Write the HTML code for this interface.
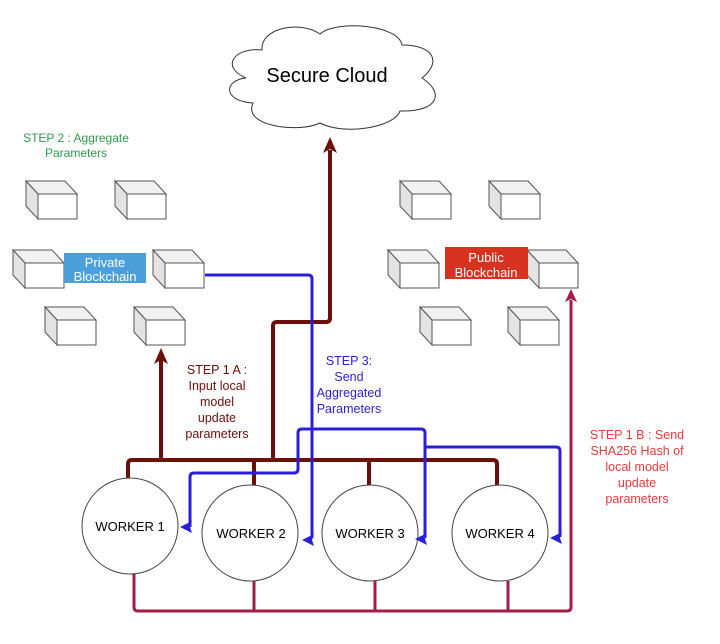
<!DOCTYPE html>
<html><head><meta charset="utf-8"><style>html,body{margin:0;padding:0;background:#fff}svg{display:block}text{font-family:"Liberation Sans",Arial,sans-serif}</style></head>
<body>
<svg width="720" height="644" viewBox="0 0 720 644" xmlns="http://www.w3.org/2000/svg">
<defs>
<g id="cube">
<polygon points="0,0 39,0 51,13 12,13" fill="#f1f1f1" stroke="#555" stroke-width="1"/>
<polygon points="0,0 12,13 12,38 0,25" fill="#e3e3e3" stroke="#555" stroke-width="1"/>
<rect x="12" y="13" width="39" height="25" fill="#fff" stroke="#555" stroke-width="1"/>
</g>
</defs>
<!-- cloud -->
<path d="M262,50 C260,28 300,20 320,34 C335,20 398,24 402,45 C434,45 442,62 422,78 C444,92 440,112 400,111 C395,127 345,136 320,123 C300,133 242,127 253,103 C222,101 224,80 246,78 C220,67 234,47 262,50 Z" fill="#fff" stroke="#333" stroke-width="1"/>
<text x="327" y="82" font-size="20" text-anchor="middle" fill="#000">Secure Cloud</text>
<text x="76" y="142" font-size="12" text-anchor="middle" fill="#2e9a4a">STEP 2 : Aggregate</text>
<text x="76" y="157" font-size="12" text-anchor="middle" fill="#2e9a4a">Parameters</text>
<!-- cubes -->
<use href="#cube" x="26" y="181"/><use href="#cube" x="115" y="181"/>
<use href="#cube" x="13" y="250"/><use href="#cube" x="153" y="250"/>
<use href="#cube" x="45" y="307"/><use href="#cube" x="134" y="307"/>
<use href="#cube" x="400" y="181"/><use href="#cube" x="489" y="181"/>
<use href="#cube" x="388" y="250"/><use href="#cube" x="527" y="250"/>
<use href="#cube" x="420" y="307"/><use href="#cube" x="508" y="307"/>
<rect x="64" y="253" width="82" height="30" fill="#4ba0dc"/>
<text x="105" y="267" font-size="13" text-anchor="middle" fill="#fff">Private</text>
<text x="105" y="281" font-size="13" text-anchor="middle" fill="#fff">Blockchain</text>
<rect x="445" y="247" width="83" height="32" fill="#d6321f"/>
<text x="486" y="262" font-size="13" text-anchor="middle" fill="#fff">Public</text>
<text x="486" y="277" font-size="13" text-anchor="middle" fill="#fff">Blockchain</text>
<!-- crimson bottom -->
<g fill="none" stroke="#a31d47" stroke-width="3">
<path d="M134,574 V607 Q134,611 138,611 H567 Q571,611 571,607 V300"/>
<path d="M254,581 V611 M375,581 V611 M508,581 V611"/>
</g>
<polygon points="571,289 565,302 571,299 577,302" fill="#a31d47"/>
<!-- brown -->
<g fill="none" stroke="#6b0f0b" stroke-width="4">
<path d="M128,478 V464 Q128,460 132,460 H493 Q497,460 497,464 V485"/>
<path d="M254,460 V485 M369,460 V485"/>
<path d="M161,460 V360"/>
<path d="M273,460 V326 Q273,322 277,322 H326 Q330,322 330,318 V150"/>
</g>
<polygon points="161,348 154,364 161,360 168,364" fill="#6b0f0b"/>
<polygon points="330,137 323,153 330,149 337,153" fill="#6b0f0b"/>
<!-- circles -->
<circle cx="130" cy="526" r="48" fill="#fff" stroke="#444" stroke-width="1"/>
<circle cx="250" cy="533" r="48" fill="#fff" stroke="#444" stroke-width="1"/>
<circle cx="370" cy="533" r="48" fill="#fff" stroke="#444" stroke-width="1"/>
<circle cx="500" cy="533" r="48" fill="#fff" stroke="#444" stroke-width="1"/>
<text x="130" y="531" font-size="13" text-anchor="middle">WORKER 1</text>
<text x="251" y="538" font-size="13" text-anchor="middle">WORKER 2</text>
<text x="370" y="538" font-size="13" text-anchor="middle">WORKER 3</text>
<text x="500" y="538" font-size="13" text-anchor="middle">WORKER 4</text>
<!-- blue -->
<g fill="none" stroke="#2a1fd4" stroke-width="3">
<path d="M205,275 H308 Q312,275 312,279 V538"/>
<path d="M190,527 V477 Q190,473 194,473 H294 Q298,473 298,469 V433 Q298,429 302,429 H421 Q425,429 425,433 V538"/>
<path d="M425,447 H556 Q560,447 560,451 V537"/>
</g>
<polygon points="302,540 314,534 312,540 314,546" fill="#2a1fd4"/>
<polygon points="180,527 192,521 190,527 192,533" fill="#2a1fd4"/>
<polygon points="415,539 427,533 425,539 427,545" fill="#2a1fd4"/>
<polygon points="550,538 562,532 560,538 562,544" fill="#2a1fd4"/>
<!-- step texts -->
<g font-size="12.5" text-anchor="middle" fill="#6b0f0b">
<text x="217" y="374">STEP 1 A :</text><text x="217" y="390">Input local</text><text x="217" y="406">model</text><text x="217" y="422">update</text><text x="217" y="438">parameters</text>
</g>
<g font-size="12.5" text-anchor="middle" fill="#2a1fd4">
<text x="349" y="365">STEP 3:</text><text x="349" y="381">Send</text><text x="349" y="397">Aggregated</text><text x="349" y="413">Parameters</text>
</g>
<g font-size="12.5" text-anchor="middle" fill="#e83a3a">
<text x="637" y="439">STEP 1 B : Send</text><text x="637" y="455">SHA256 Hash of</text><text x="637" y="471">local model</text><text x="637" y="487">update</text><text x="637" y="503">parameters</text>
</g>
</svg>
</body></html>
